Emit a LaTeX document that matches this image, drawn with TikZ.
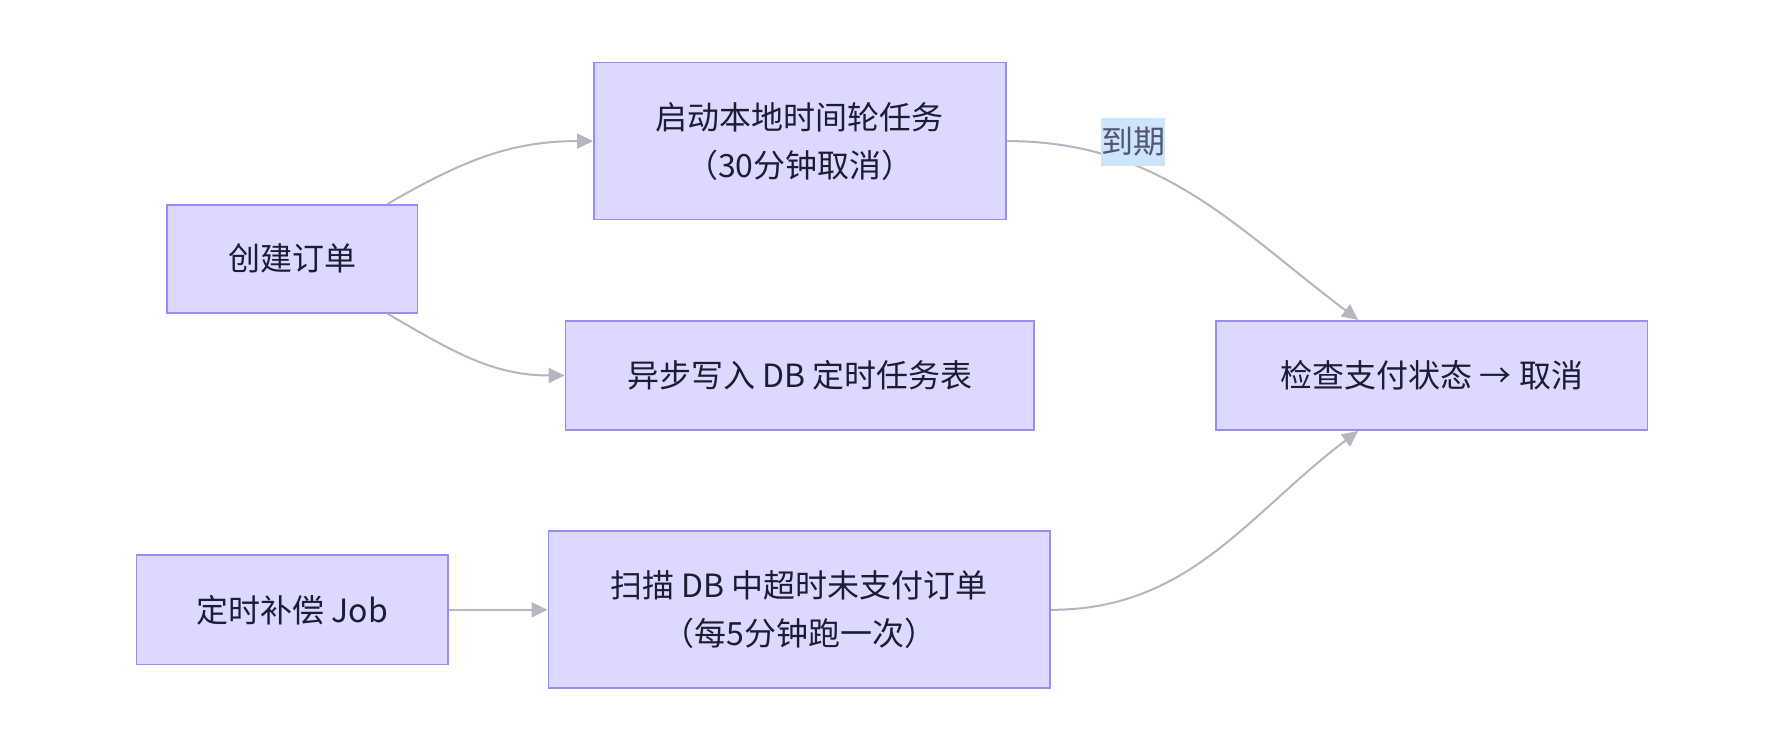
\documentclass[tikz,border=0pt]{standalone}
\usepackage{fontspec}
\setmainfont{Noto Sans CJK SC}
\usetikzlibrary{arrows.meta}
\definecolor{boxfill}{RGB}{220,216,255}
\definecolor{boxline}{RGB}{150,140,250}
\definecolor{edgegray}{RGB}{182,182,192}
\definecolor{labelbg}{RGB}{206,228,250}
\definecolor{textdark}{RGB}{28,28,52}
\definecolor{labeltext}{RGB}{80,86,110}
\newcommand{\pxu}{0.5689pt}

\begin{document}
\begin{tikzpicture}[x=\pxu, y=\pxu, -{Triangle[length=8pt,width=7.5pt]}, draw=edgegray, line width=1pt]
    \tikzstyle{stage}=[rectangle, draw=boxline, fill=boxfill, line width=0.9pt, text=textdark, font=\fontsize{16}{24}\selectfont, align=center, inner sep=0pt, minimum height=96*\pxu]
    \tikzstyle{tall stage}=[stage, minimum height=138*\pxu]
    \tikzstyle{label tag}=[fill=labelbg, text=labeltext, font=\fontsize{16}{24}\selectfont, inner sep=0pt, minimum width=56*\pxu, minimum height=43*\pxu]

    \useasboundingbox (0,0) rectangle (1568,-661);

    % Draw the order side
    \node[stage, minimum width=220*\pxu, minimum height=95*\pxu] (A) at (257,-227.5) {创建订单};
    \node[tall stage, minimum width=362*\pxu] (B) at (703,-124) {启动本地时间轮任务\\（30分钟取消）};
    \node[stage, minimum width=412*\pxu] (C) at (703,-330) {异步写入 DB 定时任务表};
    \node[stage, minimum width=379*\pxu] (D) at (1258.5,-330) {检查支付状态 → 取消};

    % Draw the compensation side
    \node[stage, minimum width=274*\pxu] (E) at (257,-536) {定时补偿 Job};
    \node[tall stage, minimum width=441*\pxu] (F) at (702.5,-536) {扫描 DB 中超时未支付订单\\（每5分钟跑一次）};

    \path (A.30) edge[out=30, in=180] (B.west);
    \path (A.-30) edge[out=-30, in=180] (C.west);
    \path (B.east) edge[out=0, in=143] (D.143);
    \path (E.east) edge (F.west);
    \path (F.east) edge[out=0, in=-143] (D.-143);

    % Annotate the timer edge
    \node[label tag] (L) at (996,-124.8) {到期};
\end{tikzpicture}
\end{document}
